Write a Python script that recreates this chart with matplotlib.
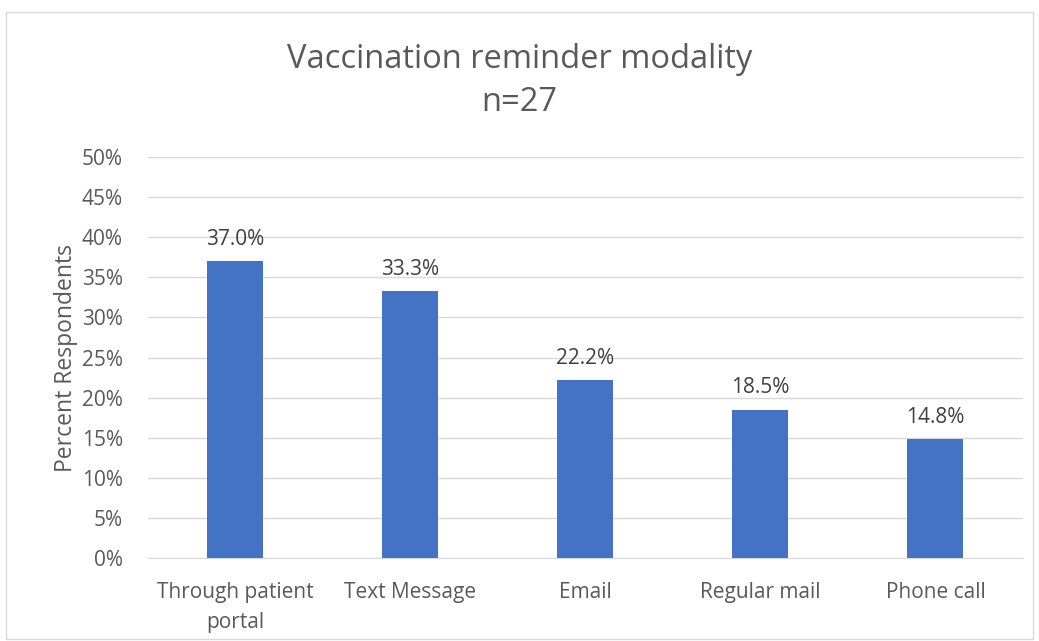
import matplotlib.pyplot as plt
from matplotlib.patches import Rectangle
from matplotlib.ticker import FuncFormatter

categories = ["Through patient\nportal", "Text Message", "Email", "Regular mail", "Phone call"]
values = [37.0, 33.3, 22.2, 18.5, 14.8]
yticks = [0, 5, 10, 15, 20, 25, 30, 35, 40, 45, 50]

plt.rcParams["font.family"] = ["Open Sans", "DejaVu Sans"]
text_color = "#595959"

fig = plt.figure(figsize=(10.39, 6.41), dpi=100)
ax = fig.add_axes([0.1424, 0.1295, 0.8422, 0.6255])

x = range(len(categories))
bars = ax.bar(x, values, width=0.32, color="#4472C4", zorder=3)
for b, v in zip(bars, values):
    ax.text(b.get_x() + b.get_width() / 2, v + 1.4, f"{v:.1f}%",
            ha="center", va="bottom", fontsize=15, color="#404040")

ax.set_xlim(-0.5, len(categories) - 0.5)
ax.set_ylim(0, 50)
ax.set_yticks(yticks)
ax.yaxis.set_major_formatter(FuncFormatter(lambda v, p: f"{v:.0f}%"))
ax.set_xticks(list(x))
ax.set_xticklabels(categories, linespacing=1.6)
ax.tick_params(axis="both", length=0, labelsize=15, colors=text_color)
ax.tick_params(axis="x", pad=17)
ax.tick_params(axis="y", pad=18)
ax.grid(axis="y", color="#D9D9D9", linewidth=1, zorder=0)
for s in ["top", "right", "left"]:
    ax.spines[s].set_visible(False)
ax.spines["bottom"].set_color("#D9D9D9")

ax.set_ylabel("Percent Respondents", fontsize=16.5, color=text_color, labelpad=3)
fig.text(0.5, 0.874, "Vaccination reminder modality\nn=27", ha="center", va="center",
         fontsize=23.5, color=text_color, linespacing=1.4)

fig.patches.append(Rectangle((0.006, 0.003), 0.988, 0.978, transform=fig.transFigure,
                             fill=False, edgecolor="#D9D9D9", linewidth=1))

fig.savefig("out.png", dpi=100)
